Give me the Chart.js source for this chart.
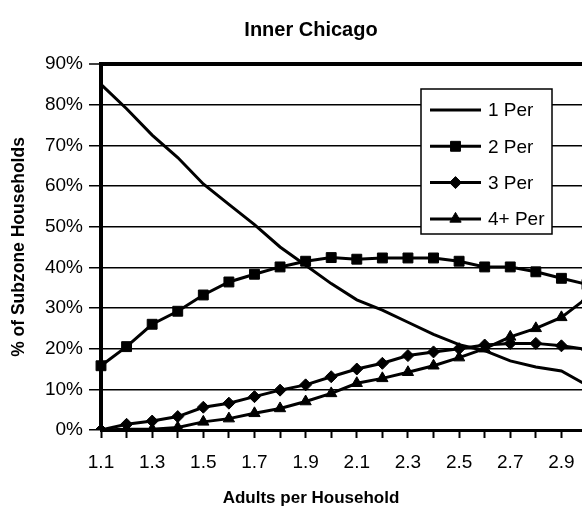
<!DOCTYPE html>
<html>
<head>
<meta charset="utf-8">
<script src="https://cdn.jsdelivr.net/npm/chart.js@4.4.1/dist/chart.umd.min.js"></script>
<style>
  html, body { margin: 0; padding: 0; background: #fff; overflow: hidden; }
  #wrap { width: 582px; height: 514px; overflow: hidden; }
</style>
</head>
<body>
<div id="wrap"><canvas id="lineChart" width="666" height="514"></canvas></div>
<script>
// adults per household (x categories), only every other one gets a label
const categories = ['1.1', '1.2', '1.3', '1.4', '1.5', '1.6', '1.7', '1.8', '1.9', '2.0',
                    '2.1', '2.2', '2.3', '2.4', '2.5', '2.6', '2.7', '2.8', '2.9', '3.0']
const xTickLabels = ['1.1', '1.3', '1.5', '1.7', '1.9', '2.1', '2.3', '2.5', '2.7', '2.9']

// % of subzone households
const onePer = [85, 79, 72.5, 67, 60.5, 55.5, 50.5, 45, 40.5, 36, 32, 29.5, 26.5, 23.5, 21, 19.5, 17, 15.5, 14.5, 11]
const twoPer = [15.8, 20.5, 26, 29.2, 33.2, 36.4, 38.3, 40.1, 41.5, 42.4, 42, 42.3, 42.3, 42.3, 41.5, 40.1, 40.1, 38.9, 37.3, 35.8]
const threePer = [0, 1.4, 2.2, 3.3, 5.6, 6.6, 8.2, 9.8, 11.1, 13.1, 15, 16.4, 18.3, 19.2, 20, 20.9, 21.3, 21.3, 20.7, 19.8]
const fourPer = [0, 0.2, 0.2, 0.6, 2, 2.8, 4.1, 5.3, 7, 9, 11.5, 12.7, 14.2, 15.8, 17.8, 20, 22.9, 25, 27.7, 32.5]

const seriesNames = ['1 Per', '2 Per', '3 Per', '4+ Per']

Chart.defaults.font.family = 'Arial, "Liberation Sans", sans-serif'
Chart.defaults.color = '#000'

// boxed legend sitting inside the plot, like the excel one
const boxLegend = {
    id: 'boxLegend',
    afterDatasetsDraw(chart) {
        const ctx = chart.ctx
        const left = 421, top = 89, right = 552, bottom = 234
        ctx.save()
        ctx.fillStyle = '#fff'
        ctx.fillRect(left, top, right - left, bottom - top)
        ctx.strokeStyle = '#000'
        ctx.lineWidth = 1.5
        ctx.strokeRect(left, top, right - left, bottom - top)

        ctx.font = '19px Arial, "Liberation Sans", sans-serif'
        ctx.textBaseline = 'middle'
        chart.data.datasets.forEach((ds, i) => {
            const y = 110 + i * 36.3
            ctx.strokeStyle = '#000'
            ctx.lineWidth = 3
            ctx.beginPath()
            ctx.moveTo(430, y)
            ctx.lineTo(481, y)
            ctx.stroke()
            if (ds.pointRadius > 0 && Chart.helpers && Chart.helpers.drawPoint) {
                ctx.fillStyle = '#000'
                ctx.lineWidth = 1
                Chart.helpers.drawPoint(ctx, {
                    pointStyle: ds.pointStyle,
                    radius: ds.pointRadius,
                    rotation: 0,
                    borderWidth: 1
                }, 455.5, y)
            }
            ctx.fillStyle = '#000'
            ctx.fillText(ds.label, 488, y + 1)
        })
        ctx.restore()
    }
}

const lineDs = (label, data, style, radius) => ({
    label,
    data,
    borderColor: '#000',
    backgroundColor: '#000',
    borderWidth: 3,
    tension: 0,
    pointStyle: style,
    pointRadius: radius,
    pointHoverRadius: radius,
    pointBackgroundColor: '#000',
    pointBorderColor: '#000',
    pointBorderWidth: 1,
})

const ctx = document.getElementById('lineChart').getContext('2d')

new Chart(ctx, {
    type: 'line',
    data: {
        labels: categories,
        datasets: [
            lineDs(seriesNames[0], onePer, false, 0),
            lineDs(seriesNames[1], twoPer, 'rect', 7),
            lineDs(seriesNames[2], threePer, 'rectRot', 6),
            lineDs(seriesNames[3], fourPer, 'triangle', 6.5),
        ],
    },
    options: {
        responsive: false,
        devicePixelRatio: 1,
        animation: false,
        // left/right padding keeps the titles centred where excel put them,
        // the plot itself runs off the right edge of the page
        layout: { padding: { left: 35, right: 79, top: 0, bottom: 0 } },
        plugins: {
            legend: { display: false },
            tooltip: { enabled: false },
            title: {
                display: true,
                text: 'Inner Chicago',
                font: { size: 20, weight: 'bold' },
                padding: { top: 18, bottom: 22 },
            },
            subtitle: {
                display: true,
                position: 'bottom',
                text: 'Adults per Household',
                font: { size: 17, weight: 'bold' },
                padding: { top: 0, bottom: 5.8 },
            },
        },
        scales: {
            x: {
                afterFit: (s) => { s.height = 57.8 },
                ticks: {
                    autoSkip: false,
                    maxRotation: 0,
                    padding: 13,
                    font: { size: 19 },
                    callback: function (v) {
                        const l = this.getLabelForValue(v)
                        return xTickLabels.includes(l) ? l : ''
                    },
                },
                grid: { drawOnChartArea: false, tickLength: 8, tickWidth: 2, tickColor: '#000' },
                border: { color: '#000', width: 3 },
            },
            y: {
                min: 0,
                max: 90,
                afterFit: (s) => { s.width = 66 },
                ticks: {
                    stepSize: 10,
                    padding: 6,
                    font: { size: 19 },
                    callback: (v) => v + '%',
                },
                grid: {
                    color: '#000',
                    lineWidth: (c) => (c.tick && c.tick.value === 90 ? 4 : 1.5),
                    tickLength: 12,
                    tickWidth: 1.5,
                    tickColor: '#000',
                },
                border: { color: '#000', width: 4 },
                title: {
                    display: true,
                    text: '% of Subzone Households',
                    font: { size: 17.5, weight: 'bold' },
                    padding: { top: -26, bottom: 0 },
                },
            },
        },
    },
    plugins: [boxLegend],
})
</script>
</body>
</html>
